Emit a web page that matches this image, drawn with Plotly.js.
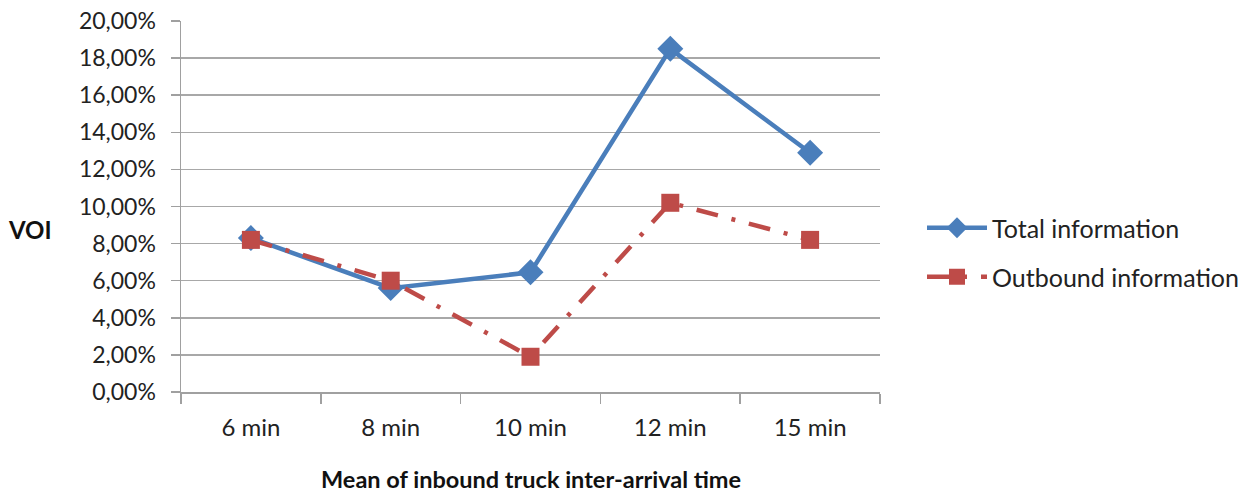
<!DOCTYPE html>
<html>
<head>
<meta charset="utf-8">
<script src="https://cdn.plot.ly/plotly-3.0.1.min.js"></script>
<style>
  html, body { margin: 0; padding: 0; background: #fff; }
  #chart { width: 1258px; height: 494px; }
</style>
</head>
<body>
<div id="chart"></div>
<script>
// Inter-arrival time categories
const categories = ['6 min', '8 min', '10 min', '12 min', '15 min'];

// Value of information (fractions, shown as percentages)
const totalInfo = [0.083, 0.056, 0.0645, 0.185, 0.129];
const outboundInfo = [0.082, 0.060, 0.019, 0.102, 0.082];

const seriesNames = ['Total information', 'Outbound information'];
const yTitle = 'VOI';
const xTitle = 'Mean of inbound truck inter-arrival time';

const FONT = 'Lato, "Open Sans", sans-serif';
const BLUE = '#4a7ebb';
const RED = '#be4b48';

const traces = [
  {
    x: categories, y: totalInfo, name: seriesNames[0],
    type: 'scatter', mode: 'lines+markers',
    line: { color: BLUE, width: 4.5 },
    marker: { symbol: 'diamond', size: 20, color: BLUE },
    legend: 'legend'
  },
  {
    x: categories, y: outboundInfo, name: seriesNames[1],
    type: 'scatter', mode: 'lines+markers',
    line: { color: RED, width: 4.5, dash: '22px,14px,4px,14px' },
    marker: { symbol: 'square', size: 18, color: RED },
    legend: 'legend2'
  }
];

const legendBase = {
  xref: 'container', yref: 'container',
  xanchor: 'left', yanchor: 'middle',
  bgcolor: 'rgba(0,0,0,0)',
  font: { family: FONT, size: 25, color: '#222' },
  itemwidth: 60
};

const layout = {
  width: 1258, height: 494,
  margin: { l: 181, r: 378, t: 21, b: 102 },
  paper_bgcolor: '#fff', plot_bgcolor: '#fff',
  separators: ',.',
  font: { family: FONT, size: 24, color: '#222' },
  showlegend: true,
  legend: Object.assign({}, legendBase, { x: 922 / 1258, y: 1 - 228 / 494 }),
  legend2: Object.assign({}, legendBase, { x: 922 / 1258, y: 1 - 277 / 494 }),
  xaxis: {
    type: 'category',
    range: [-0.5, categories.length - 0.5],
    showgrid: false,
    showline: true, linecolor: '#a0a0a0', linewidth: 1.5,
    ticks: 'outside', tickson: 'boundaries', ticklen: 10,
    tickcolor: '#a0a0a0', tickwidth: 1.5,
    ticklabelstandoff: 14,
    tickfont: { family: FONT, size: 24, color: '#222' },
    zeroline: false
  },
  yaxis: {
    range: [0, 0.2], dtick: 0.02, tickformat: '.2%',
    showgrid: true, gridcolor: '#a8a8a8', gridwidth: 1.5,
    showline: true, linecolor: '#a0a0a0', linewidth: 1.5,
    ticks: 'outside', ticklen: 9, tickcolor: '#a0a0a0', tickwidth: 1.5,
    ticklabelstandoff: 10,
    tickfont: { family: FONT, size: 23, color: '#222' },
    zeroline: false
  },
  annotations: [
    {
      text: '<b>' + yTitle + '</b>', xref: 'paper', yref: 'paper',
      x: -0.216, y: (392 - 230) / 371, xanchor: 'center', yanchor: 'middle',
      showarrow: false, font: { family: FONT, size: 24, color: '#111' }
    },
    {
      text: '<b>' + xTitle + '</b>', xref: 'paper', yref: 'paper',
      x: 0.5, y: (392 - 479) / 371, xanchor: 'center', yanchor: 'middle',
      showarrow: false, font: { family: FONT, size: 23.5, color: '#111' }
    }
  ]
};

Plotly.newPlot('chart', traces, layout, { displayModeBar: false, staticPlot: true });
</script>
</body>
</html>
